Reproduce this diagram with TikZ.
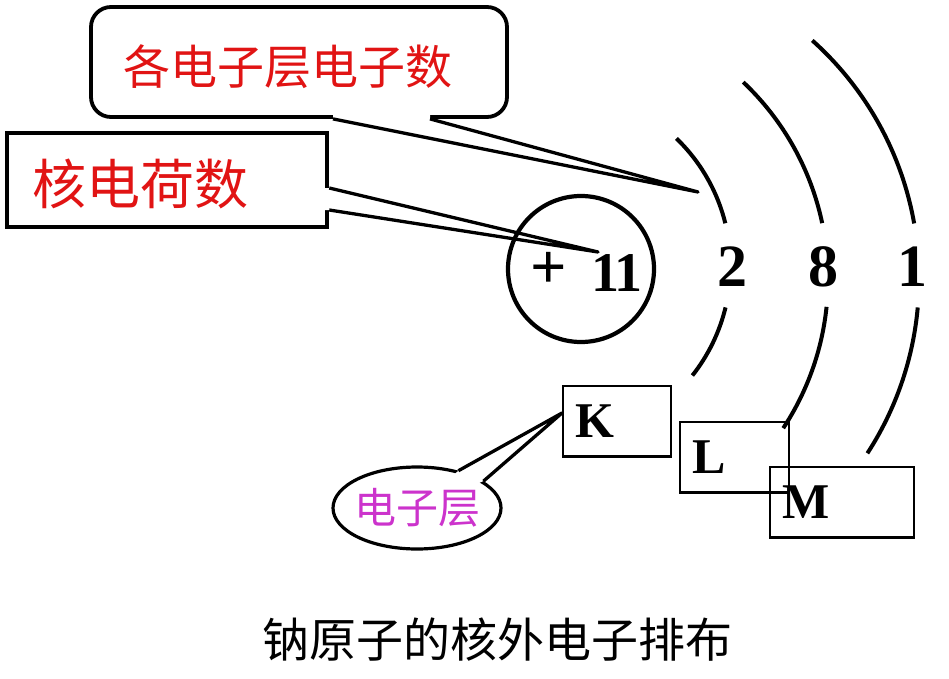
\documentclass[tikz,border=0pt]{standalone}
\usepackage{fontspec}
\setmainfont{Liberation Serif}
\newfontfamily\cjk{Noto Sans CJK SC}
\usetikzlibrary{shapes.geometric, calc}
\definecolor{labelred}{RGB}{225,20,20}
\definecolor{layerpink}{RGB}{204,51,204}

\begin{document}
\begin{tikzpicture}[x=1pt, y=-1pt,
    tag/.style={draw, fill=white, text=labelred, align=left},
    pointer/.style={line width=3.3pt, line join=round},
    shell/.style={line width=4pt},
    digit/.style={font=\fontsize{60}{60}\selectfont\bfseries},
    shellbox/.style={draw, line width=1.3pt, minimum height=70pt, inner xsep=12pt, align=left, font=\fontsize{50}{50}\selectfont\bfseries}]
    \useasboundingbox (0,0) rectangle (949,679);

    \node[tag, rounded corners=20pt, line width=3.8pt, minimum height=110pt, inner xsep=32pt, text width=352pt,
        text height=46pt, text depth=0pt, font=\cjk\fontsize{47}{47}\selectfont] (numbox) at (299,62) {各电子层电子数};
    \coordinate (numtip) at (698,192);
    \fill[white] ([xshift=34pt,yshift=5pt]numbox.south) -- ([xshift=34pt]numbox.south) -- (numtip)
        -- ([xshift=131pt]numbox.south) -- ([xshift=131pt,yshift=5pt]numbox.south) -- cycle;
    \draw[pointer] ([xshift=34pt]numbox.south) -- (numtip) -- ([xshift=131pt]numbox.south);

    \node[tag, line width=4.5pt, minimum height=94pt, inner xsep=25pt, text width=270pt,
        text height=49pt, text depth=0pt, font=\cjk\fontsize{54}{54}\selectfont] (chargebox) at (167,180) {核电荷数};
    \coordinate (chargetip) at (598,252);
    \fill[white] ([xshift=-5pt,yshift=-8pt]chargebox.east) -- ([yshift=-8pt]chargebox.east) -- (chargetip)
        -- ([yshift=-30pt]chargebox.east) -- ([xshift=-5pt,yshift=-30pt]chargebox.east) -- cycle;

    \node[draw, circle, line width=4.2pt, minimum size=146pt] (nucleus) at (581,269) {};
    \node[font=\fontsize{64}{64}\selectfont\bfseries] (plus) at (549,270) {+};
    \node[font=\fontsize{56}{56}\selectfont\bfseries] (eleven) at (617,273) {1\kern-5pt 1};
    \draw[pointer] ([yshift=-8pt]chargebox.east) -- (chargetip) -- ([yshift=-30pt]chargebox.east);

    \node[digit] (k2) at (732,267) {2};
    \node[digit] (l8) at (823,267) {8};
    \node[digit] (m1) at (912,267) {1};

    \foreach \cx/\cy/\r/\a/\b/\c/\d in {553.5/265.8/177/-46/-13.9/13.6/38.3, 557/279/271/-46.6/-11.9/5.9/33.4, 599/279/320/-48.2/-10/5.1/33}
        \draw[shell] (\cx,\cy) ++(\a:\r) arc[start angle=\a, end angle=\b, radius=\r]
            (\cx,\cy) ++(\c:\r) arc[start angle=\c, end angle=\d, radius=\r];

    \node[shellbox, text width=84pt] (K) at (617,421) {K};
    \node[shellbox, text width=85pt] (L) at (734.5,457) {L};
    \node[shellbox, text width=120pt] (M) at (842,502) {M};
    \foreach \s in {K,L,M}
        \draw[line width=3pt] (\s.south west) -- (\s.south east);

    \node[draw, ellipse, fill=white, line width=3.2pt, minimum width=168pt, minimum height=82pt, inner xsep=-5pt, inner ysep=0pt,
        text=layerpink, font=\cjk\fontsize{42}{42}\selectfont] (bubble) at (417,508) {电子层};
    \coordinate (bubbletip) at (562,413);
    \fill[white] ($(bubble.42)!0.1!(bubble.center)$) -- (bubble.42) -- (bubbletip)
        -- (bubble.22) -- ($(bubble.22)!0.1!(bubble.center)$) -- cycle;
    \draw[pointer] (bubble.42) -- (bubbletip) -- (bubble.22);

    \node[font=\cjk\fontsize{47}{47}\selectfont] (caption) at (497,640) {钠原子的核外电子排布};
\end{tikzpicture}
\end{document}
